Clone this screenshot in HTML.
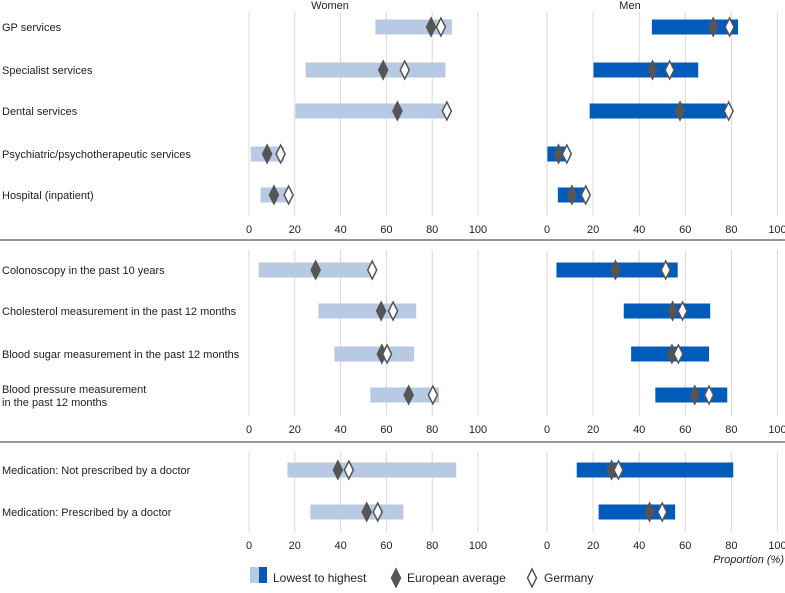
<!DOCTYPE html>
<html><head><meta charset="utf-8"><style>
body{margin:0;background:#fff;}
svg{font-family:"Liberation Sans",sans-serif;}
</style></head><body>
<svg id="c" width="785" height="588"></svg>
<script>
const categories=["GP services","Specialist services","Dental services","Psychiatric/psychotherapeutic services","Hospital (inpatient)","Colonoscopy in the past 10 years","Cholesterol measurement in the past 12 months","Blood sugar measurement in the past 12 months","Blood pressure measurement|in the past 12 months","Medication: Not prescribed by a doctor","Medication: Prescribed by a doctor"];
const womenLow=[55.2,24.7,20.3,0.8,5,4.2,30.3,37.3,53,16.8,26.8];
const womenHigh=[88.6,85.8,85.3,15.2,17,53.8,73,72.1,83,90.5,67.4];
const womenEU=[79.5,58.6,64.8,7.9,10.9,29.1,57.7,58,69.7,38.8,51.4];
const womenDE=[83.8,68,86.4,13.8,17.3,53.8,62.9,60.3,80.3,43.6,56.2];
const menLow=[45.5,20.2,18.5,0.2,4.7,4.1,33.3,36.5,47,12.9,22.4];
const menHigh=[82.9,65.6,77.7,8.3,16.7,56.7,70.8,70.3,78.2,80.8,55.6];
const menEU=[72.1,45.8,57.7,5,10.8,29.7,54.5,54.2,64.1,28,44.5];
const menDE=[79.2,53.2,78.8,8.6,16.8,51.5,58.8,57,70.3,31,50];
const tickLabels=[0,20,40,60,80,100];
const rowY=[27,70,111,154,195,270,311,354,395,470,512];
const panels=[{top:12,bot:216,tick:229,rows:[0,1,2,3,4]},{top:250,bot:416,tick:429,rows:[5,6,7,8]},{top:452,bot:532,tick:545,rows:[9,10]}];
const NS="http://www.w3.org/2000/svg";const svg=document.getElementById('c');
function mk(t,a,p){const e=document.createElementNS(NS,t);for(const k in a)e.setAttribute(k,a[k]);(p||svg).appendChild(e);return e;}
const xW=v=>249+2.29*v, xM=v=>547+2.305*v;
let t=mk('text',{x:330,y:9,'font-size':11,fill:'#222','text-anchor':'middle'});t.textContent='Women';

t=mk('text',{x:630,y:9,'font-size':11,fill:'#222','text-anchor':'middle'});t.textContent='Men';

[240,442].forEach(y=>{const l=mk('line',{x1:0,x2:785,y1:y,y2:y,stroke:'#777','stroke-width':1.5});
});
panels.forEach(p=>{[xW,xM].forEach(f=>{tickLabels.forEach(v=>{
 const g=mk('line',{x1:f(v),x2:f(v),y1:p.top,y2:p.bot,stroke:'#d9d9d9','stroke-width':1});
 
 const tt=mk('text',{x:f(v),y:p.tick+4,'font-size':11,fill:'#222','text-anchor':'middle'});tt.textContent=v;
 });});});
function diamond(x,y,fill,name){const d=mk('path',{d:`M${x} ${y-9}L${x+4.5} ${y}L${x} ${y+9}L${x-4.5} ${y}Z`,fill:fill,stroke:'#555','stroke-width':1.5});
 }
categories.forEach((c,i)=>{const y=rowY[i];const parts=c.split('|');
 const lb=mk('text',{x:2,y:parts.length>1?y-2:y+4,'font-size':11,fill:'#222'});
 
 parts.forEach((s,j)=>{const ts=mk('tspan',{x:2,dy:j?13:0},lb);ts.textContent=s;});
 const bw=mk('rect',{x:xW(womenLow[i]),y:y-7.5,width:xW(womenHigh[i])-xW(womenLow[i]),height:15,fill:'#b8c9e3'});
 
 const bm=mk('rect',{x:xM(menLow[i]),y:y-7.5,width:xM(menHigh[i])-xM(menLow[i]),height:15,fill:'#005bbb'});
 
 diamond(xW(womenEU[i]),y,'#555','women-eu-marker');diamond(xW(womenDE[i]),y,'#fff','women-germany-marker');
 diamond(xM(menEU[i]),y,'#555','men-eu-marker');diamond(xM(menDE[i]),y,'#fff','men-germany-marker');});
t=mk('text',{x:784,y:563,'font-size':11,fill:'#222','text-anchor':'end','font-style':'italic'});t.textContent='Proportion (%)';

let r=mk('rect',{x:250,y:567,width:9,height:16,fill:'#b8c9e3'});
r=mk('rect',{x:259,y:567,width:8,height:16,fill:'#005bbb'});
t=mk('text',{x:273,y:582,'font-size':12,fill:'#222'});t.textContent='Lowest to highest';
diamond(396,578,'#555','legend-eu-marker');
t=mk('text',{x:407,y:582,'font-size':12,fill:'#222'});t.textContent='European average';
diamond(532,578,'#fff','legend-germany-marker');
t=mk('text',{x:544,y:582,'font-size':12,fill:'#222'});t.textContent='Germany';
</script>
</body></html>
